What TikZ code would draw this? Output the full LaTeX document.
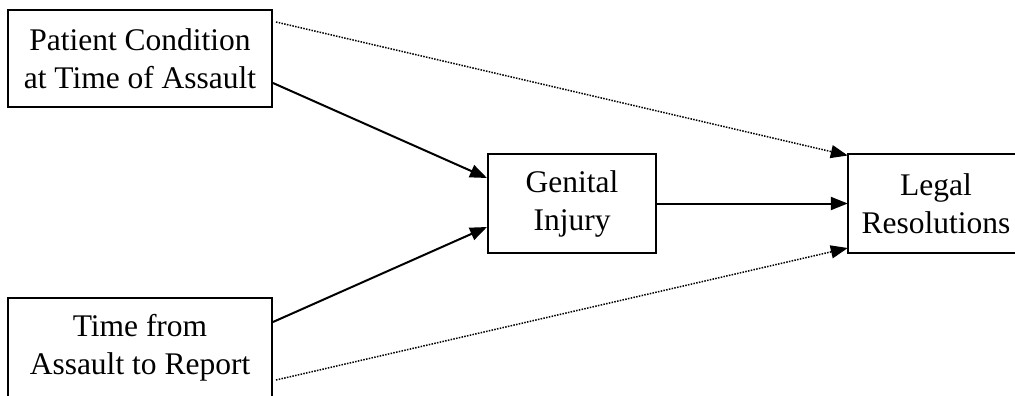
\documentclass[tikz,border=0pt]{standalone}
\usepackage{fontspec}
\setmainfont{Liberation Serif}
\usetikzlibrary{arrows.meta,calc}
\begin{document}
\begin{tikzpicture}[x=1pt,y=-1pt,
  boxtext/.style={align=center,inner sep=0pt,
    font=\fontsize{31.5}{38}\selectfont},
  box/.style={boxtext,draw,line width=2pt},
  edge/.style={line width=2pt},
  solidarrow/.style={line width=2pt,-{Triangle[length=17pt,width=13pt]}},
  dotarrow/.style={line width=1.5pt,dash pattern=on 1.5pt off 1.3pt,-{Triangle[length=17pt,width=13pt]}}]
\useasboundingbox (0,0) rectangle (1015,396);
\node[box,minimum width=264pt,minimum height=97pt] (tl) at (140,58.5) {Patient Condition\\at Time of Assault};
\node[box,minimum width=264pt,minimum height=99pt] (bl) at (140,347.5) {Time from\\Assault to Report};
\node[box,minimum width=168pt,minimum height=99pt] (g) at (572,203.5) {Genital\\Injury};
\node[boxtext,minimum width=176pt,minimum height=99pt] (l) at (936,203.5) {Legal\\Resolutions};
\draw[edge] (l.north east) -- (l.north west) -- (l.south west) -- (l.south east);
\draw[solidarrow] ($(tl.east)+(0,24.5)$) -- ($(g.west)+(0,-25.5)$);
\draw[solidarrow] ($(bl.east)+(0,-25.5)$) -- ($(g.west)+(0,23.5)$);
\draw[solidarrow] (g.east) -- (l.west);
\draw[dotarrow] ($(tl.east)+(3,-36.5)$) -- ($(l.west)+(0,-48)$);
\draw[dotarrow] ($(bl.east)+(3,32.5)$) -- ($(l.west)+(0,44.5)$);
\end{tikzpicture}
\end{document}
